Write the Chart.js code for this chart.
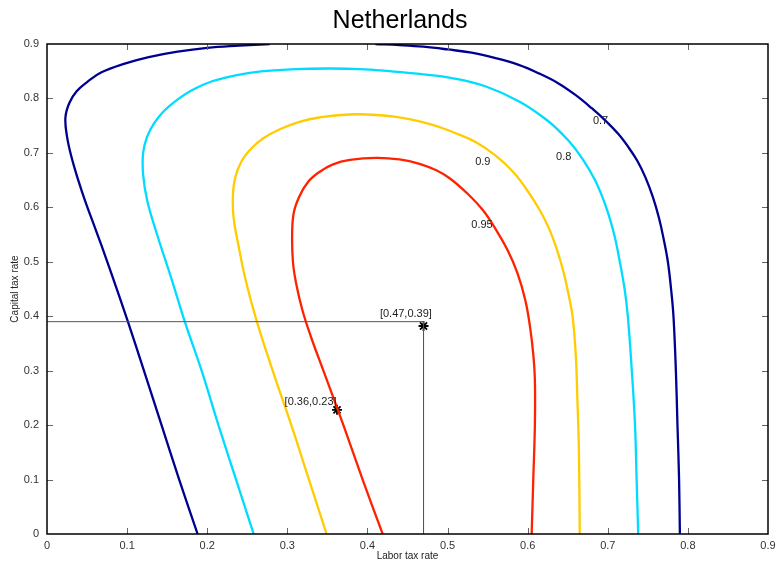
<!DOCTYPE html>
<html>
<head>
<meta charset="utf-8">
<script src="https://cdn.jsdelivr.net/npm/chart.js@4/dist/chart.umd.min.js"></script>
<style>
  html, body { margin: 0; padding: 0; background: #fff; }
  #wrap { width: 779px; height: 569px; position: relative; }
</style>
</head>
<body>
<div id="wrap"><canvas id="chart"></canvas></div>
<script>
/* contour lines: labor tax rate (x), capital tax rate (y) */
var tickLabels = ['0', '0.1', '0.2', '0.3', '0.4', '0.5', '0.6', '0.7', '0.8', '0.9'];

var labor70a = [0.188, 0.165, 0.143, 0.121, 0.101, 0.080, 0.068, 0.058, 0.048, 0.039, 0.031, 0.025, 0.023, 0.028, 0.037, 0.050, 0.068, 0.097, 0.127, 0.163, 0.200, 0.240, 0.278];
var capital70a = [0, 0.1, 0.2, 0.3, 0.39, 0.48, 0.53, 0.57, 0.61, 0.65, 0.69, 0.73, 0.765, 0.792, 0.813, 0.830, 0.848, 0.864, 0.876, 0.886, 0.893, 0.897, 0.90];
var labor70b = [0.410, 0.440, 0.470, 0.500, 0.530, 0.560, 0.588, 0.614, 0.638, 0.660, 0.680, 0.698, 0.713, 0.726, 0.737, 0.747, 0.756, 0.764, 0.770, 0.775, 0.779, 0.782, 0.785, 0.787, 0.789, 0.790];
var capital70b = [0.90, 0.898, 0.895, 0.890, 0.884, 0.874, 0.862, 0.846, 0.828, 0.806, 0.782, 0.758, 0.735, 0.71, 0.685, 0.655, 0.62, 0.58, 0.54, 0.50, 0.45, 0.40, 0.30, 0.20, 0.10, 0];

var labor80 = [0.258, 0.236, 0.214, 0.193, 0.172, 0.156, 0.137, 0.125, 0.120, 0.120, 0.125, 0.134, 0.146, 0.162, 0.182, 0.207, 0.237, 0.270, 0.310, 0.353, 0.390, 0.428, 0.465, 0.507, 0.548, 0.590, 0.625, 0.650, 0.668, 0.684, 0.698, 0.708, 0.715, 0.721, 0.725, 0.730, 0.734, 0.736, 0.738];
var capital80 = [0, 0.1, 0.2, 0.3, 0.39, 0.466, 0.552, 0.613, 0.66, 0.70, 0.73, 0.755, 0.777, 0.797, 0.816, 0.832, 0.843, 0.850, 0.854, 0.855, 0.854, 0.850, 0.845, 0.837, 0.822, 0.794, 0.759, 0.724, 0.69, 0.65, 0.60, 0.55, 0.50, 0.45, 0.40, 0.30, 0.20, 0.10, 0];

var labor90 = [0.349, 0.327, 0.305, 0.284, 0.262, 0.248, 0.239, 0.233, 0.232, 0.235, 0.243, 0.255, 0.270, 0.290, 0.315, 0.340, 0.386, 0.436, 0.478, 0.507, 0.535, 0.560, 0.582, 0.600, 0.615, 0.627, 0.637, 0.645, 0.651, 0.656, 0.660, 0.662, 0.664, 0.665];
var capital90 = [0, 0.1, 0.2, 0.29, 0.39, 0.466, 0.53, 0.58, 0.62, 0.655, 0.685, 0.708, 0.727, 0.743, 0.757, 0.765, 0.771, 0.766, 0.753, 0.738, 0.720, 0.695, 0.665, 0.63, 0.595, 0.56, 0.52, 0.48, 0.44, 0.40, 0.33, 0.25, 0.15, 0];

var labor95 = [0.419, 0.394, 0.370, 0.345, 0.330, 0.319, 0.311, 0.307, 0.306, 0.308, 0.315, 0.326, 0.340, 0.357, 0.378, 0.411, 0.440, 0.465, 0.486, 0.503, 0.525, 0.544, 0.560, 0.575, 0.587, 0.597, 0.603, 0.607, 0.609, 0.609, 0.607, 0.605];
var capital95 = [0, 0.1, 0.2, 0.3, 0.36, 0.41, 0.46, 0.50, 0.55, 0.59, 0.62, 0.647, 0.665, 0.679, 0.687, 0.691, 0.688, 0.680, 0.668, 0.653, 0.625, 0.595, 0.56, 0.521, 0.48, 0.43, 0.38, 0.33, 0.283, 0.2, 0.1, 0];

var levelNames = ['0.7', '0.8', '0.9', '0.95'];
var levelLabelX = [0.691, 0.645, 0.544, 0.543];
var levelLabelY = [0.758, 0.692, 0.683, 0.567];

var optimumX = [0.47, 0.362];
var optimumY = [0.382, 0.228];
var optimumText = ['[0.47,0.39]', '[0.36,0.23]'];
var optimumTextX = [0.448, 0.329];
var optimumTextY = [0.404, 0.243];

var guideX = [0, 0.47, 0.47];
var guideY = [0.39, 0.39, 0];

function pts(xs, ys) {
    var out = [];
    for (var i = 0; i < xs.length; i++) out.push({x: xs[i], y: ys[i]});
    return out;
}

function contour(xs, ys, color) {
    return {
        data: pts(xs, ys),
        showLine: true,
        borderColor: color,
        borderWidth: 2.3,
        pointRadius: 0,
        tension: 0.4,
        fill: false
    };
}

var plotLeft = 47, plotRight = 768, plotTop = 44, plotBottom = 534;
var fontFamily = '"Liberation Sans", Arial, sans-serif';

/* title, box, inner ticks and text labels */
var decorPlugin = {
    id: 'decor',
    afterDraw: function (chart) {
        var ctx = chart.ctx;
        var a = chart.chartArea;
        var xs = chart.scales.x, ys = chart.scales.y;
        ctx.save();
        ctx.fillStyle = '#000';
        ctx.font = '25px ' + fontFamily;
        ctx.textAlign = 'center';
        ctx.textBaseline = 'middle';
        ctx.fillText('Netherlands', 400, 21);

        ctx.strokeStyle = '#666';
        ctx.lineWidth = 1;
        ctx.beginPath();
        for (var i = 1; i < tickLabels.length - 1; i++) {
            var v = i / 10;
            var px = Math.round(xs.getPixelForValue(v)) + 0.5;
            ctx.moveTo(px, a.bottom); ctx.lineTo(px, a.bottom - 6);
            ctx.moveTo(px, a.top); ctx.lineTo(px, a.top + 6);
            var py = Math.round(ys.getPixelForValue(v)) + 0.5;
            ctx.moveTo(a.left, py); ctx.lineTo(a.left + 6, py);
            ctx.moveTo(a.right, py); ctx.lineTo(a.right - 6, py);
        }
        ctx.stroke();

        ctx.strokeStyle = '#000';
        ctx.lineWidth = 1.5;
        ctx.strokeRect(a.left, a.top, a.right - a.left, a.bottom - a.top);

        ctx.fillStyle = '#222';
        ctx.font = '11px ' + fontFamily;
        for (var j = 0; j < levelNames.length; j++) {
            ctx.fillText(levelNames[j], xs.getPixelForValue(levelLabelX[j]), ys.getPixelForValue(levelLabelY[j]));
        }
        for (var k = 0; k < optimumText.length; k++) {
            ctx.fillText(optimumText[k], xs.getPixelForValue(optimumTextX[k]), ys.getPixelForValue(optimumTextY[k]));
        }
        ctx.restore();
    }
};

new Chart(document.getElementById('chart'), {
    type: 'scatter',
    data: {
        datasets: [
            {
                data: pts(guideX, guideY),
                showLine: true,
                borderColor: '#555',
                borderWidth: 1,
                pointRadius: 0,
                tension: 0
            },
            contour(labor70a, capital70a, '#000090'),
            contour(labor70b, capital70b, '#000090'),
            contour(labor80, capital80, '#00dcff'),
            contour(labor90, capital90, '#ffcc00'),
            contour(labor95, capital95, '#ff2200'),
            {
                data: pts(optimumX, optimumY),
                showLine: false,
                pointStyle: 'star',
                pointRadius: 5,
                borderColor: '#000',
                borderWidth: 1.8,
                backgroundColor: '#000'
            }
        ]
    },
    options: {
        responsive: true,
        maintainAspectRatio: false,
        animation: false,
        layout: { padding: { top: plotTop, right: 779 - plotRight, left: 0, bottom: 0 } },
        plugins: {
            legend: { display: false },
            tooltip: { enabled: false },
            title: { display: false }
        },
        scales: {
            x: {
                type: 'linear',
                min: 0,
                max: 0.9,
                border: { display: false },
                grid: { display: false },
                ticks: {
                    stepSize: 0.1,
                    padding: -3,
                    color: '#333',
                    font: { family: fontFamily, size: 11 },
                    maxRotation: 0,
                    callback: function (v) { return tickLabels[Math.round(v * 10)]; }
                },
                title: {
                    display: true,
                    text: 'Labor tax rate',
                    color: '#222',
                    padding: { top: 0, bottom: 7 },
                    font: { family: fontFamily, size: 10 }
                },
                afterFit: function (scale) { scale.height = 569 - plotBottom; }
            },
            y: {
                type: 'linear',
                min: 0,
                max: 0.9,
                border: { display: false },
                grid: { display: false },
                ticks: {
                    stepSize: 0.1,
                    padding: 0,
                    color: '#333',
                    font: { family: fontFamily, size: 11 },
                    callback: function (v) { return tickLabels[Math.round(v * 10)]; }
                },
                title: {
                    display: true,
                    text: 'Capital tax rate',
                    color: '#222',
                    padding: { top: 9, bottom: 0 },
                    font: { family: fontFamily, size: 10 }
                },
                afterFit: function (scale) { scale.width = plotLeft; }
            }
        }
    },
    plugins: [decorPlugin]
});
</script>
</body>
</html>
